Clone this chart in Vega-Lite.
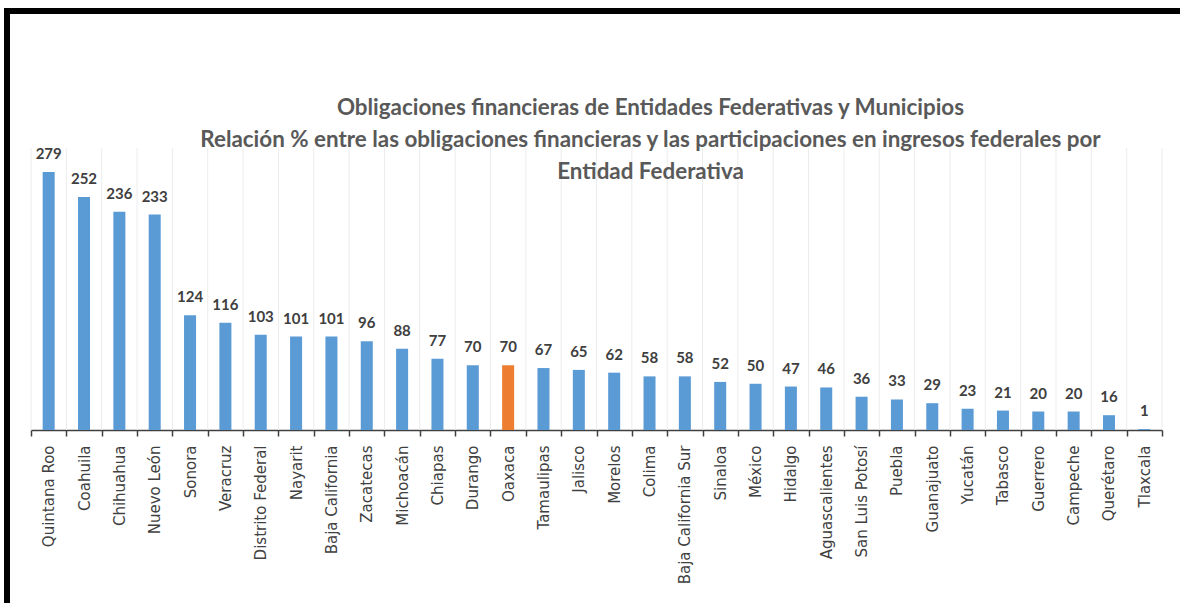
{
  "$schema": "https://vega.github.io/schema/vega-lite/v6.json",
  "autosize": {"type": "none"},
  "padding": {"left": 7, "top": 11, "right": 0, "bottom": 0},
  "width": 1173,
  "height": 592,
  "background": "white",
  "title": {
    "text": ["Obligaciones financieras de Entidades Federativas y Municipios", "Relación % entre las obligaciones financieras y las participaciones en ingresos federales por", "Entidad Federativa"],
    "anchor": "middle", "frame": "group", "offset": -172, "dx": 57,
    "font": "Lato", "fontSize": 22.4, "fontWeight": "bold", "color": "#595959", "lineHeight": 32
  },
  "datasets": {
    "entidades": [
      {"estado": "Quintana Roo", "valor": 279},
      {"estado": "Coahuila", "valor": 252},
      {"estado": "Chihuahua", "valor": 236},
      {"estado": "Nuevo León", "valor": 233},
      {"estado": "Sonora", "valor": 124},
      {"estado": "Veracruz", "valor": 116},
      {"estado": "Distrito Federal", "valor": 103},
      {"estado": "Nayarit", "valor": 101},
      {"estado": "Baja California", "valor": 101},
      {"estado": "Zacatecas", "valor": 96},
      {"estado": "Michoacán", "valor": 88},
      {"estado": "Chiapas", "valor": 77},
      {"estado": "Durango", "valor": 70},
      {"estado": "Oaxaca", "valor": 70},
      {"estado": "Tamaulipas", "valor": 67},
      {"estado": "Jalisco", "valor": 65},
      {"estado": "Morelos", "valor": 62},
      {"estado": "Colima", "valor": 58},
      {"estado": "Baja California Sur", "valor": 58},
      {"estado": "Sinaloa", "valor": 52},
      {"estado": "México", "valor": 50},
      {"estado": "Hidalgo", "valor": 47},
      {"estado": "Aguascalientes", "valor": 46},
      {"estado": "San Luis Potosí", "valor": 36},
      {"estado": "Puebla", "valor": 33},
      {"estado": "Guanajuato", "valor": 29},
      {"estado": "Yucatán", "valor": 23},
      {"estado": "Tabasco", "valor": 21},
      {"estado": "Guerrero", "valor": 20},
      {"estado": "Campeche", "valor": 20},
      {"estado": "Querétaro", "valor": 16},
      {"estado": "Tlaxcala", "valor": 1}
    ]
  },
  "data": {"name": "entidades"},
  "encoding": {
    "x": {
      "field": "estado", "type": "nominal", "sort": null,
      "scale": {"range": [24, 1155], "paddingInner": 0, "paddingOuter": 0},
      "axis": {
        "title": null, "orient": "bottom", "offset": -173,
        "labelAngle": -90, "labelAlign": "right", "labelBaseline": "middle",
        "labelFont": "DejaVu Sans", "labelFontSize": 15, "labelColor": "#404040", "labelPadding": 9,
        "labelOverlap": false, "labelLimit": 0,
        "tickBand": "extent", "ticks": true, "tickSize": 6, "tickColor": "#404040", "tickWidth": 1.5,
        "domainColor": "#404040", "domainWidth": 1.5,
        "grid": false
      }
    },
    "y": {
      "field": "valor", "type": "quantitative",
      "scale": {"domain": [0, 305], "range": [419, 137], "nice": false, "zero": true},
      "axis": null
    }
  },
  "layer": [
    {
      "mark": {"type": "rule", "color": "#ececec", "strokeWidth": 1},
      "encoding": {
        "x": {"field": "estado", "type": "nominal", "sort": null, "bandPosition": 0},
        "y": {"datum": 0},
        "y2": {"datum": 305}
      }
    },
    {
      "transform": [{"filter": "datum.estado === 'Tlaxcala'"}],
      "mark": {"type": "rule", "color": "#ececec", "strokeWidth": 1},
      "encoding": {
        "x": {"field": "estado", "type": "nominal", "sort": null, "bandPosition": 1},
        "y": {"datum": 0},
        "y2": {"datum": 305}
      }
    },
    {
      "mark": {"type": "bar", "width": {"band": 0.34}},
      "encoding": {
        "color": {"condition": {"test": "datum.estado === 'Oaxaca'", "value": "#ed7d31"}, "value": "#5b9bd5"}
      }
    },
    {
      "mark": {"type": "text", "dy": -13, "baseline": "alphabetic", "font": "Lato", "fontWeight": "bold", "fontSize": 15, "fill": "#404040"},
      "encoding": {"text": {"field": "valor", "type": "quantitative"}}
    }
  ],
  "config": {
    "view": {"stroke": "black", "strokeWidth": 6, "strokeDash": [1170, 1768, 592], "strokeCap": "square"}
  }
}
